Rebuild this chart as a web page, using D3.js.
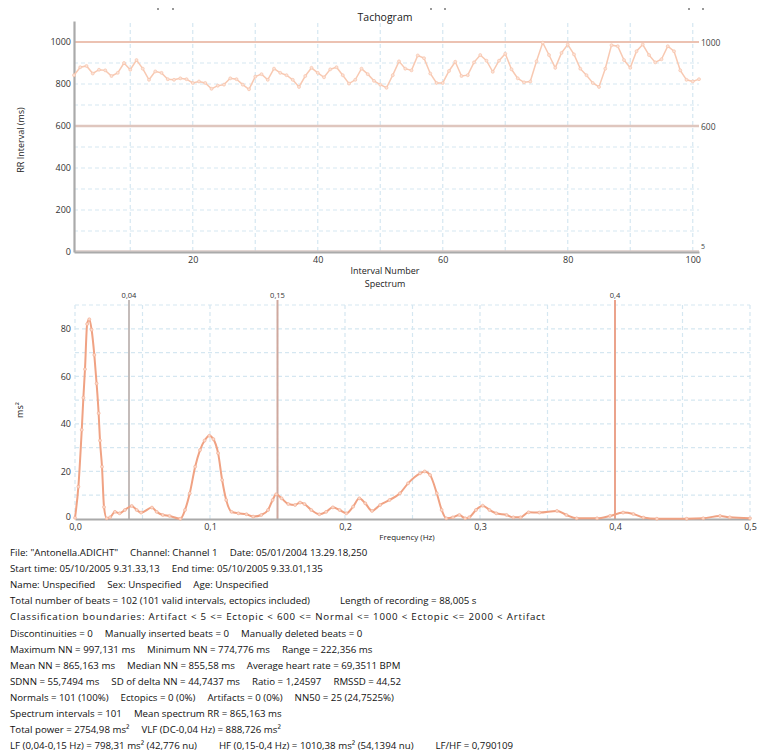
<!DOCTYPE html>
<html>
<head>
<meta charset="utf-8">
<script src="https://cdn.jsdelivr.net/npm/d3@7/dist/d3.min.js"></script>
<style>
  html, body { margin: 0; padding: 0; background: #fff; }
  svg { display: block; font-family: "Open Sans", "Noto Sans", sans-serif; }
</style>
</head>
<body>
<svg id="chart" width="757" height="756"></svg>
<script>
// RR intervals (ms), interval number 1..101
const rrValues = [
  842, 880, 886, 850, 868, 865, 838, 853, 900, 868,
  914, 873, 820, 860, 853, 823, 820, 827, 823, 805,
  812, 805, 777, 792, 797, 827, 823, 797, 775, 835,
  847, 820, 873, 853, 842, 820, 786, 838, 877, 853,
  832, 870, 880, 842, 802, 820, 873, 847, 815, 797,
  782, 842, 908, 873, 865, 936, 923, 850, 805, 805,
  862, 906, 838, 842, 903, 938, 911, 858, 911, 944,
  870, 827, 808, 812, 908, 997, 938, 877, 948, 988,
  941, 873, 842, 805, 786, 873, 985, 980, 914, 877,
  956, 988, 938, 903, 918, 980, 956, 865, 820, 812,
  823
];
const rrTicks = [0, 200, 400, 600, 800, 1000];
const intervalTicks = [20, 40, 60, 80, 100];
// classification boundaries drawn across the tachogram
const boundaries = [1000, 600, 5];

// power spectrum (ms²) against frequency (Hz)
const specFreq = [
  0, 0.0025, 0.005, 0.0062, 0.0074, 0.009, 0.0106, 0.0123, 0.0143, 0.016,
  0.0175, 0.0185, 0.02, 0.0215, 0.0235, 0.026, 0.0296, 0.033, 0.037, 0.042,
  0.0457, 0.049, 0.057, 0.0605, 0.065, 0.07, 0.078, 0.0815, 0.085, 0.089,
  0.0926, 0.096, 0.0995, 0.1025, 0.106, 0.109, 0.112, 0.116, 0.121, 0.127,
  0.132, 0.138, 0.143, 0.1464, 0.149, 0.153, 0.158, 0.163, 0.1667, 0.17,
  0.175, 0.181, 0.186, 0.191, 0.196, 0.201, 0.206, 0.2106, 0.215, 0.22,
  0.226, 0.233, 0.2407, 0.2467, 0.2556, 0.259, 0.263, 0.268, 0.2716, 0.275,
  0.28, 0.2847, 0.289, 0.292, 0.297, 0.302, 0.307, 0.312, 0.3197, 0.3247,
  0.33, 0.336, 0.344, 0.357, 0.364, 0.3716, 0.3867, 0.3963, 0.406, 0.4136,
  0.421, 0.431, 0.4531, 0.4654, 0.4778, 0.485, 0.5
];
const specPower = [
  0.5, 13.6, 37.5, 51, 63, 82, 84, 79.6, 69, 57,
  44.5, 33, 22, 5, 0.3, 0.7, 3, 2.4, 3.8, 5.5,
  3.8, 2.7, 4.8, 3, 1.7, 1.3, 0.1, 3.8, 10.8, 22,
  29, 33, 35, 33.6, 27.7, 16.4, 8, 3, 2.4, 2,
  1, 1.7, 3.8, 8, 10.4, 8.7, 6.3, 5.9, 6.9, 6.3,
  3.8, 2, 3, 4.9, 3.8, 2.4, 5.2, 8.7, 6.6, 3.4,
  5.9, 8, 10.8, 15, 19.2, 20, 18.5, 10.8, 3.8, 0.3,
  0.7, 1.7, 0.3, 0.7, 3.8, 5.6, 3.8, 2.4, 1.7, 0.7,
  0.7, 2.8, 2.7, 3.4, 1.7, 0.3, 0.3, 1.3, 2.7, 2.1,
  0.6, 0.1, 0.1, 0.3, 1.3, 0.7, 0.3
];
const powerTicks = [0, 20, 40, 60, 80];
const freqTicks = [0, 0.1, 0.2, 0.3, 0.4, 0.5];
// band limits (Hz)
const bandLimits = [0.04, 0.15, 0.4];
const bandLabels = ["0,04", "0,15", "0,4"];

// summary text, one array of segments per line
const summaryLines = [
  ['File: "Antonella.ADICHT"', 'Channel: Channel 1', 'Date: 05/01/2004 13.29.18,250'],
  ['Start time: 05/10/2005 9.31.33,13', 'End time: 05/10/2005 9.33.01,135'],
  ['Name: Unspecified', 'Sex: Unspecified', 'Age: Unspecified'],
  ['Total number of beats = 102 (101 valid intervals, ectopics included)', 'Length of recording = 88,005 s'],
  ['Classification boundaries: Artifact < 5 <= Ectopic < 600 <= Normal <= 1000 < Ectopic <= 2000 < Artifact'],
  ['Discontinuities = 0', 'Manually inserted beats = 0', 'Manually deleted beats = 0'],
  ['Maximum NN = 997,131 ms', 'Minimum NN = 774,776 ms', 'Range = 222,356 ms'],
  ['Mean NN = 865,163 ms', 'Median NN = 855,58 ms', 'Average heart rate = 69,3511 BPM'],
  ['SDNN = 55,7494 ms', 'SD of delta NN = 44,7437 ms', 'Ratio = 1,24597', 'RMSSD = 44,52'],
  ['Normals = 101 (100%)', 'Ectopics = 0 (0%)', 'Artifacts = 0 (0%)', 'NN50 = 25 (24,7525%)'],
  ['Spectrum intervals = 101', 'Mean spectrum RR = 865,163 ms'],
  ['Total power = 2754,98 ms²', 'VLF (DC-0,04 Hz) = 888,726 ms²'],
  ['LF (0,04-0,15 Hz) = 798,31 ms² (42,776 nu)', 'HF (0,15-0,4 Hz) = 1010,38 ms² (54,1394 nu)', 'LF/HF = 0,790109']
];
// space between segments on each line (px)
const segmentGap = [12, 12, 12, 30, 0, 12, 12, 12, 12, 12, 12, 12, 22];

const svg = d3.select("#chart");
const gridColor = "#d5e7f1";
const axisColor = "#aaaaaa";
const labelColor = "#333";
const fmtComma = d => d3.format(".1f")(d).replace(".", ",");

// ---------- Tachogram ----------
const tx = d3.scaleLinear().domain([1, 101]).range([74, 699]);
const ty = d3.scaleLinear().domain([0, 1100]).range([252, 21]);
const tach = svg.append("g");

// dashed grid: every 10 intervals, every 100 ms
tach.append("g").selectAll("line").data(d3.range(10, 101, 10)).join("line")
  .attr("x1", d => tx(d)).attr("x2", d => tx(d))
  .attr("y1", ty(1090)).attr("y2", ty(0))
  .attr("stroke", gridColor).attr("stroke-width", 1.2).attr("stroke-dasharray", "4,3");
tach.append("g").selectAll("line").data(d3.range(100, 1001, 100)).join("line")
  .attr("x1", tx(1)).attr("x2", tx(101))
  .attr("y1", d => ty(d)).attr("y2", d => ty(d))
  .attr("stroke", gridColor).attr("stroke-width", 1.2).attr("stroke-dasharray", "4,3");

// boundary lines
const boundaryStyle = { 1000: ["#ecc2b2", 2], 600: ["#dfc6be", 2.6], 5: ["#d8c8c4", 1.5] };
boundaries.forEach(b => {
  tach.append("line")
    .attr("x1", tx(1)).attr("x2", tx(101))
    .attr("y1", ty(b)).attr("y2", ty(b))
    .attr("stroke", boundaryStyle[b][0]).attr("stroke-width", boundaryStyle[b][1]);
  tach.append("text")
    .attr("x", tx(101) + 2).attr("y", ty(b) + (b === 5 ? -2 : 3.5))
    .attr("font-size", b === 5 ? 7 : 8.5).attr("fill", "#444")
    .text(b);
});

// axes
const tachXAxis = d3.axisBottom(tx).tickValues(intervalTicks).tickSize(0).tickPadding(5);
tach.append("g").attr("transform", `translate(0,${ty(0)})`).call(tachXAxis)
  .call(g => g.select(".domain").attr("stroke", axisColor).attr("stroke-width", 2.2))
  .call(g => g.selectAll("text").attr("font-size", 9).attr("fill", labelColor).attr("font-family", "Open Sans"));
const tachYAxis = d3.axisLeft(ty).tickValues(rrTicks).tickSize(0).tickPadding(3).tickFormat(d3.format("d"));
tach.append("g").attr("transform", `translate(${tx(1)},0)`).call(tachYAxis)
  .call(g => g.select(".domain").attr("stroke", axisColor).attr("stroke-width", 2.2))
  .call(g => g.selectAll("text").attr("font-size", 9).attr("fill", labelColor).attr("font-family", "Open Sans"));

// RR line with markers
const rrPts = rrValues.map((v, i) => [i + 1, v]);
tach.append("path").datum(rrPts)
  .attr("fill", "none").attr("stroke", "#f8c9b2").attr("stroke-width", 1.5)
  .attr("d", d3.line().x(d => tx(d[0])).y(d => ty(d[1])));
tach.append("g").selectAll("circle").data(rrPts).join("circle")
  .attr("cx", d => tx(d[0])).attr("cy", d => ty(d[1])).attr("r", 1.5)
  .attr("fill", "#fbe2d6").attr("stroke", "#f6c0a6").attr("stroke-width", 0.6);

// small marks along the top edge
[157, 172, 430, 444, 688, 702].forEach(x => {
  tach.append("rect").attr("x", x).attr("y", 8).attr("width", 2).attr("height", 2).attr("fill", "#999");
});

tach.append("text").attr("x", 385).attr("y", 21).attr("text-anchor", "middle")
  .attr("font-size", 10.5).attr("fill", "#222").text("Tachogram");
tach.append("text").attr("transform", "translate(24,140) rotate(-90)").attr("text-anchor", "middle")
  .attr("font-size", 9).attr("fill", "#222").text("RR Interval (ms)");
tach.append("text").attr("x", 385).attr("y", 274).attr("text-anchor", "middle")
  .attr("font-size", 9).attr("fill", "#222").text("Interval Number");

// ---------- Spectrum ----------
const sx = d3.scaleLinear().domain([0, 0.5]).range([75, 750]);
const sy = d3.scaleLinear().domain([0, 90]).range([519, 305]);
const spec = svg.append("g");

spec.append("text").attr("x", 385).attr("y", 287).attr("text-anchor", "middle")
  .attr("font-size", 9).attr("fill", "#222").text("Spectrum");

spec.append("g").selectAll("line").data(d3.range(0, 11).map(i => i * 0.05)).join("line")
  .attr("x1", d => sx(d)).attr("x2", d => sx(d))
  .attr("y1", sy(90)).attr("y2", sy(0))
  .attr("stroke", gridColor).attr("stroke-width", 1.2).attr("stroke-dasharray", "4,3");
spec.append("g").selectAll("line").data(d3.range(10, 91, 10)).join("line")
  .attr("x1", sx(0)).attr("x2", sx(0.5))
  .attr("y1", d => sy(d)).attr("y2", d => sy(d))
  .attr("stroke", gridColor).attr("stroke-width", 1.2).attr("stroke-dasharray", "4,3");

// band limit lines
const bandColors = ["#c4bcba", "#cfa89e", "#eba38c"];
bandLimits.forEach((b, i) => {
  spec.append("line").attr("x1", sx(b)).attr("x2", sx(b))
    .attr("y1", 300).attr("y2", sy(0))
    .attr("stroke", bandColors[i]).attr("stroke-width", 2);
  spec.append("text").attr("x", sx(b)).attr("y", 298).attr("text-anchor", "middle")
    .attr("font-size", 7.5).attr("fill", "#333").text(bandLabels[i]);
});

const specXAxis = d3.axisBottom(sx).tickValues(freqTicks).tickSize(0).tickPadding(5).tickFormat(fmtComma);
spec.append("g").attr("transform", `translate(0,${sy(0)})`).call(specXAxis)
  .call(g => g.select(".domain").attr("stroke", axisColor).attr("stroke-width", 2.2))
  .call(g => g.selectAll("text").attr("font-size", 9).attr("fill", labelColor).attr("font-family", "Open Sans"));
const specYAxis = d3.axisLeft(sy).tickValues(powerTicks).tickSize(0).tickPadding(4);
spec.append("g").attr("transform", `translate(${sx(0)},0)`).call(specYAxis)
  .call(g => g.select(".domain").remove())
  .call(g => g.selectAll("text").attr("font-size", 9).attr("fill", labelColor).attr("font-family", "Open Sans")
    .attr("dy", d => d === 0 ? "0.1em" : "0.32em"));

const specPts = specFreq.map((f, i) => [f, specPower[i]]);
spec.append("path").datum(specPts)
  .attr("fill", "none").attr("stroke", "#f0a283").attr("stroke-width", 2)
  .attr("d", d3.line().curve(d3.curveMonotoneX).x(d => sx(d[0])).y(d => sy(d[1])));
spec.append("g").selectAll("circle").data(specPts).join("circle")
  .attr("cx", d => sx(d[0])).attr("cy", d => sy(d[1])).attr("r", 1.5)
  .attr("fill", "#fbd8c8").attr("stroke", "#f2ab90").attr("stroke-width", 0.6);

spec.append("text").attr("transform", "translate(23,410) rotate(-90)").attr("text-anchor", "middle")
  .attr("font-size", 9).attr("fill", "#222").text("ms²");
spec.append("text").attr("x", 407).attr("y", 540).attr("text-anchor", "middle")
  .attr("font-size", 8).attr("fill", "#222").text("Frequency (Hz)");

// ---------- Summary text ----------
const summary = svg.append("g").attr("font-size", 9.7).attr("fill", "#111");
summaryLines.forEach((segs, li) => {
  let x = 10;
  segs.forEach(s => {
    const t = summary.append("text")
      .attr("x", x).attr("y", 556 + li * 16.1)
      .text(s);
    if (segs.length === 1 && li === 4) {
      // boundary line is set wider, with spaced operators
      t.attr("textLength", 535).attr("lengthAdjust", "spacing");
    }
    x += t.node().getComputedTextLength() + segmentGap[li];
  });
});
</script>
</body>
</html>
